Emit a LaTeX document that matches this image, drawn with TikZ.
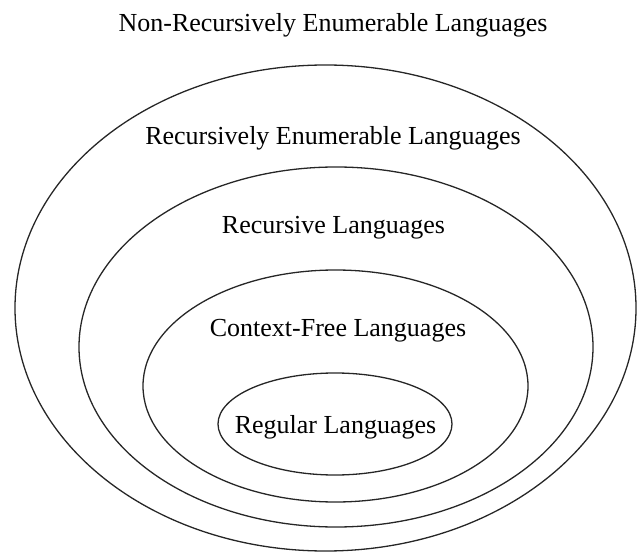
\documentclass[tikz,border=0pt]{standalone}
\usepackage{fontspec}
\setmainfont{Liberation Serif}
\usetikzlibrary{shapes.geometric}

\begin{document}
\begin{tikzpicture}[x=1pt,y=-1pt,
      every node/.style={font=\fontsize{26}{30}\selectfont},
      langset/.style={ellipse,draw=black!85,line width=1.3pt,inner sep=0pt},
      langname/.style={inner sep=0pt,anchor=center},
    ]
    \useasboundingbox (0,0) rectangle (637,553);

    % --- nested language classes ---
    \node[langset,minimum width=621pt,minimum height=486pt] (re)  at (325.5,308) {};
    \node[langset,minimum width=514pt,minimum height=360pt] (rec) at (336,347) {};
    \node[langset,minimum width=385pt,minimum height=232pt] (cfl) at (335.5,386) {};
    \node[langset,minimum width=234pt,minimum height=102pt] (reg) at (335,424) {};

    % --- labels ---
    \node[langname] (nrelbl)  at (333,25)  {Non-Recursively Enumerable Languages};
    \node[langname] (relbl)   at (333,138) {Recursively Enumerable Languages};
    \node[langname] (reclbl)  at (333.5,228) {Recursive Languages};
    \node[langname] (cfllbl)  at (338,331) {Context-Free Languages};
    \node[langname] (reglbl)  at (335.5,427) {Regular Languages};

  \end{tikzpicture}
\end{document}
